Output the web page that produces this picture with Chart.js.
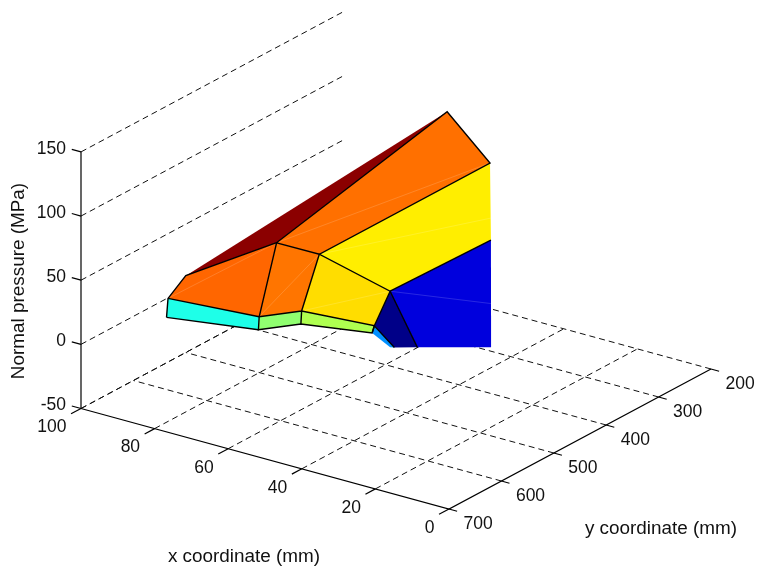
<!DOCTYPE html>
<html>
<head>
<meta charset="utf-8">
<title>Normal pressure</title>
<script src="https://cdn.jsdelivr.net/npm/chart.js@4/dist/chart.umd.min.js"></script>
<style>
    html, body { margin: 0; padding: 0; background: #fff; }
    #wrap { width: 759px; height: 572px; }
</style>
</head>
<body>
<div id="wrap"><canvas id="pressure-chart" width="759" height="572"></canvas></div>
<script>
// axis ticks
const xTicks = [100, 80, 60, 40, 20, 0];
const yTicks = [700, 600, 500, 400, 300, 200];
const zTicks = [150, 100, 50, 0, -50];

// surface nodes, mm / mm / MPa
const nodeIds = ["A", "a", "B", "b", "C", "c", "D", "d", "E", "F", "G", "H", "T", "R", "S", "U", "V", "W", "X", "Y", "Z"];
const nodeX = [93.3, 93.7, 72.8, 73.0, 67.1, 67.3, 50.9, 51.5, 60, 80, 90, 100, 71.7, 60.05, 59.8, 25.3, 38.5, 42.6, 43.4, 59.8, 40];
const nodeY = [581, 581, 551, 551, 510, 510, 485, 485, 391, 385.7, 397, 500, 200, 200, 200, 442, 490, 505, 507.5, 200, 339];
const nodeZ = [15.1, 0, 10.3, 0, 10.3, 0, 6.0, 0, 5.3, 17.3, 20.9, 9.9, 94.3, 63.5, 3.7, 0, 0, 0, 0, 20.8, 0];

const panels = ["H G T", "G T R F", "F R S E", "E S U V", "E V W D", "F E D C", "G F C B", "H G B A", "A B b a", "B C c b", "C D d c", "D W X d"];
const panelColors = ["#8b0000", "#ff7000", "#ffee00", "#0000dd", "#000088", "#ffdd00", "#ff7500", "#ff6600", "#1effe8", "#90ff70", "#afff50", "#0090ff"];
const seams = ["A G", "B F", "C E", "G R", "F Y", "E Z"];
const edges = ["a A H G T R F G B b", "A B C D E F C c", "a b c d D W", "E V", "E S", "d D"];

// fitted view of the MATLAB axes
const project = (x, y, z) => ({
    x: 449 - 3.68 * x - 0.524 * (y - 700),
    y: 509 - 1.005 * x + 0.28 * (y - 700) - 1.283 * (z + 50),
});

const path = (ids) => ids.split(" ").map((id) => {
    const i = nodeIds.indexOf(id);
    return project(nodeX[i], nodeY[i], nodeZ[i]);
});

const line = (points, color, extra) => ({
    data: points,
    showLine: true,
    pointRadius: 0,
    borderColor: color,
    borderWidth: 1.2,
    fill: false,
    tension: 0,
    clip: false,
    ...extra,
});

const dashed = { borderDash: [6, 4], borderWidth: 1 };
const gridColor = "#111";
const axisColor = "#000";
const datasets = [];

// walls and floor grid first, the surface hides part of it
zTicks.forEach((z) => {
    datasets.push(line([project(100, 700, z), project(100, 200, z)], gridColor, dashed));
});
xTicks.filter((x) => x > 0).forEach((x) => {
    datasets.push(line([project(x, 700, -50), project(x, 200, -50)], gridColor, dashed));
});
yTicks.filter((y) => y < 700).forEach((y) => {
    datasets.push(line([project(0, y, -50), project(100, y, -50)], gridColor, dashed));
});

panels.forEach((ids, i) => {
    const points = path(ids);
    points.push(points[0]);
    datasets.push(line(points, "rgba(0,0,0,0)", { borderWidth: 0, fill: "shape", backgroundColor: panelColors[i] }));
});
seams.forEach((ids) => {
    datasets.push(line(path(ids), "rgba(255,255,255,0.2)", { borderWidth: 0.8 }));
});
edges.forEach((ids) => {
    datasets.push(line(path(ids), "#000", { borderWidth: 1.4 }));
});

// axes and tick marks
datasets.push(line([project(100, 700, -50), project(100, 700, 150)], axisColor));
datasets.push(line([project(100, 700, -50), project(0, 700, -50), project(0, 200, -50)], axisColor));
zTicks.forEach((z) => {
    datasets.push(line([project(100, 700, z), project(102.5, 700, z)], axisColor));
});
xTicks.forEach((x) => {
    datasets.push(line([project(x, 700, -50), project(x, 719, -50)], axisColor));
});
yTicks.forEach((y) => {
    datasets.push(line([project(0, y, -50), project(-2.2, y, -50)], axisColor));
});

datasets.forEach((d, i) => {
    d.order = datasets.length - i;
});

const labelsPlugin = {
    id: "axisText",
    afterDraw(chart) {
        const { ctx, scales } = chart;
        const put = (text, px, py, align) => {
            ctx.textAlign = align;
            ctx.fillText(text, scales.x.getPixelForValue(px), scales.y.getPixelForValue(py));
        };
        ctx.save();
        ctx.fillStyle = "#111";
        ctx.textBaseline = "middle";
        ctx.font = "17.5px 'Liberation Sans', Arial, sans-serif";
        zTicks.forEach((z) => {
            const p = project(100, 700, z);
            put(String(z), p.x - 15, p.y - 3, "right");
        });
        xTicks.forEach((x) => {
            const p = project(x, 700, -50);
            put(String(x), p.x - 14.5, p.y + 19, "right");
        });
        yTicks.forEach((y) => {
            const p = project(0, y, -50);
            put(String(y), p.x + 14.5, p.y + 15, "left");
        });
        ctx.font = "18.9px 'Liberation Sans', Arial, sans-serif";
        put("x coordinate (mm)", 244, 557, "center");
        put("y coordinate (mm)", 661, 529, "center");
        ctx.translate(scales.x.getPixelForValue(18.5), scales.y.getPixelForValue(281));
        ctx.rotate(-Math.PI / 2);
        ctx.textAlign = "center";
        ctx.fillText("Normal pressure (MPa)", 0, 0);
        ctx.restore();
    },
};

new Chart(document.getElementById("pressure-chart").getContext("2d"), {
    type: "scatter",
    data: { datasets },
    options: {
        responsive: false,
        animation: false,
        events: [],
        layout: { padding: 0 },
        scales: {
            x: { type: "linear", display: false, min: 0, max: 759 },
            y: { type: "linear", display: false, min: 0, max: 572, reverse: true },
        },
        plugins: {
            legend: { display: false },
            tooltip: { enabled: false },
        },
    },
    plugins: [labelsPlugin],
});
</script>
</body>
</html>
